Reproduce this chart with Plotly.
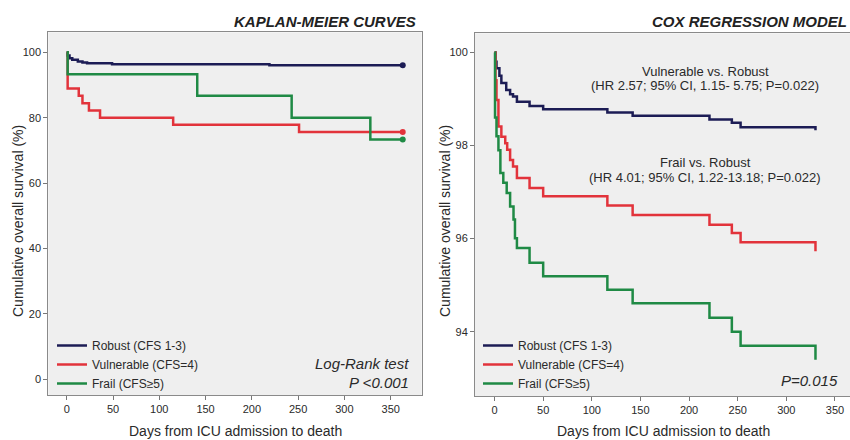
import plotly.graph_objects as go

W, H = 850, 440

# ---------------- DATA ----------------
groups = ["Robust (CFS 1-3)", "Vulnerable (CFS=4)", "Frail (CFS\u22655)"]
colors = ["#1c1c55", "#e2333b", "#1f8a45"]

# Kaplan-Meier curves (left panel)
km_robust_days = [0, 1, 3, 6, 12, 17, 22, 49, 219, 363]
km_robust_surv = [100, 99.0, 98.2, 97.7, 97.2, 96.9, 96.6, 96.3, 96.0, 96.0]
km_vuln_days = [0, 1, 13, 17, 24, 36, 115, 251, 363]
km_vuln_surv = [100, 88.9, 86.7, 84.4, 82.2, 80.0, 77.8, 75.6, 75.6]
km_frail_days = [0, 1, 141, 243, 328, 363]
km_frail_surv = [100, 93.3, 86.7, 80.0, 73.3, 73.3]

# Cox regression model curves (right panel)
cox_robust_days = [0, 1, 2, 5, 7, 12, 16, 19, 23, 36, 50, 116, 142, 221, 244, 253, 330]
cox_robust_surv = [100, 99.8, 99.66, 99.5, 99.34, 99.19, 99.10, 99.05, 98.94, 98.85, 98.78,
                   98.71, 98.64, 98.56, 98.49, 98.39, 98.33]
cox_vuln_days = [0, 1, 2, 4, 7, 11, 13, 16, 19, 23, 36, 50, 116, 142, 221, 244, 253, 330]
cox_vuln_surv = [100, 99.4, 98.98, 98.41, 98.19, 98.05, 97.91, 97.69, 97.55, 97.30, 97.09,
                 96.91, 96.71, 96.51, 96.30, 96.12, 95.92, 95.73]
cox_frail_days = [0, 0.5, 2, 4, 6, 9, 12.5, 16, 19.5, 21, 23, 36, 50, 116, 142, 221, 244, 253, 330]
cox_frail_surv = [100, 98.6, 98.2, 97.9, 97.41, 97.2, 96.98, 96.69, 96.41, 96.01, 95.80, 95.48,
                  95.19, 94.90, 94.61, 94.30, 94.00, 93.70, 93.40]

x_ticks = [0, 50, 100, 150, 200, 250, 300, 350]
km_y_ticks = [0, 20, 40, 60, 80, 100]
cox_y_ticks = [94, 96, 98, 100]

left_title = "KAPLAN-MEIER CURVES"
right_title = "COX REGRESSION MODEL"
x_title = "Days from ICU admission to death"
y_title = "Cumulative overall survival (%)"
km_test = ["Log-Rank test", "P <0.001"]
cox_test = "P=0.015"
cox_notes = [("Vulnerable vs. Robust", "(HR 2.57; 95% CI, 1.15- 5.75; P=0.022)"),
             ("Frail vs. Robust", "(HR 4.01; 95% CI, 1.22-13.18; P=0.022)")]

# ---------------- HELPERS ----------------
def fx(px):
    return px / W

def fy(py):
    return 1 - py / H

FONT = "Liberation Sans, Arial, sans-serif"
NARROW = "Liberation Sans Narrow, Arial Narrow, Liberation Sans, Arial, sans-serif"
TXT = "#2a2a2a"

fig = go.Figure()

km_sets = [(km_robust_days, km_robust_surv), (km_vuln_days, km_vuln_surv), (km_frail_days, km_frail_surv)]
cox_sets = [(cox_robust_days, cox_robust_surv), (cox_vuln_days, cox_vuln_surv), (cox_frail_days, cox_frail_surv)]

for i in range(3):
    d, s = km_sets[i]
    fig.add_trace(go.Scatter(x=d, y=s, mode="lines", line=dict(color=colors[i], width=2.5, shape="hv"),
                             name=groups[i], legend="legend", xaxis="x", yaxis="y"))
for i in range(3):
    d, s = km_sets[i]
    fig.add_trace(go.Scatter(x=[d[-1]], y=[s[-1]], mode="markers",
                             marker=dict(color=colors[i], size=6), showlegend=False,
                             xaxis="x", yaxis="y"))
for i in range(3):
    d, s = cox_sets[i]
    fig.add_trace(go.Scatter(x=d, y=s, mode="lines", line=dict(color=colors[i], width=2.5, shape="hv"),
                             name=groups[i], legend="legend2", xaxis="x2", yaxis="y2"))

axis_common = dict(showline=True, linecolor="#8a8a8a", linewidth=1, mirror=True,
                   ticks="outside", ticklen=4, tickcolor="#777", showgrid=False, zeroline=False,
                   tickfont=dict(family=NARROW, size=11, color=TXT))

fig.update_layout(
    width=W, height=H,
    margin=dict(l=0, r=0, t=0, b=0),
    paper_bgcolor="white",
    plot_bgcolor="#efefef",
    font=dict(family=FONT, color=TXT),
    xaxis=dict(domain=[fx(48.3), fx(421.7)], range=[-19.9, 383.5], tickvals=x_ticks, anchor="y", **axis_common),
    yaxis=dict(domain=[fy(395), fy(32.3)], range=[-4.8, 106.1], tickvals=km_y_ticks, anchor="x", **axis_common),
    xaxis2=dict(domain=[fx(475), 1.0], range=[-20.1, 365.5], tickvals=x_ticks, anchor="y2", **axis_common),
    yaxis2=dict(domain=[fy(396), fy(33.3)], range=[92.62, 100.41], tickvals=cox_y_ticks, anchor="x2", **axis_common),
    legend=dict(x=fx(52), y=fy(331), xanchor="left", yanchor="top", bgcolor="rgba(0,0,0,0)",
                font=dict(family=FONT, size=12, color=TXT), tracegroupgap=0, itemwidth=30),
    legend2=dict(x=fx(478), y=fy(331), xanchor="left", yanchor="top", bgcolor="rgba(0,0,0,0)",
                 font=dict(family=FONT, size=12, color=TXT), tracegroupgap=0, itemwidth=30),
    showlegend=True,
)

ann = []
ann.append(dict(text="<b><i>%s</i></b>" % left_title, x=fx(418), y=fy(21), xanchor="right", yanchor="middle",
                font=dict(size=15, color="#222")))
ann.append(dict(text="<b><i>%s</i></b>" % right_title, x=fx(849), y=fy(21), xanchor="right", yanchor="middle",
                font=dict(size=15, color="#222")))
for cx in (235, 663):
    ann.append(dict(text=x_title, x=fx(cx), y=fy(431), xanchor="center", yanchor="middle",
                    font=dict(size=14, color=TXT)))
for cx in (18, 445):
    ann.append(dict(text=y_title, x=fx(cx), y=fy(221), xanchor="center", yanchor="middle", textangle=-90,
                    font=dict(size=14, color=TXT)))
ann.append(dict(text="<i>%s</i>" % km_test[0], x=fx(411), y=fy(363), xanchor="right", yanchor="middle",
                font=dict(size=15, color=TXT)))
ann.append(dict(text="<i>%s</i>" % km_test[1], x=fx(411), y=fy(382), xanchor="right", yanchor="middle",
                font=dict(size=15, color=TXT)))
ann.append(dict(text="<i>%s</i>" % cox_test, x=fx(840), y=fy(380), xanchor="right", yanchor="middle",
                font=dict(size=15, color=TXT)))
note_y = [(71, 85.5), (162, 177.5)]
for (l1, l2), (y1, y2) in zip(cox_notes, note_y):
    ann.append(dict(text=l1, x=fx(705), y=fy(y1), xanchor="center", yanchor="middle", borderpad=0,
                    font=dict(size=13, color=TXT)))
    ann.append(dict(text=l2, x=fx(705), y=fy(y2), xanchor="center", yanchor="middle", borderpad=0,
                    font=dict(size=13, color=TXT)))
for a in ann:
    a.update(xref="paper", yref="paper", showarrow=False)
fig.update_layout(annotations=ann)

fig.write_html("out.html", config={"displayModeBar": False},
               post_script="document.body.style.margin='0';document.body.style.overflow='hidden';")
